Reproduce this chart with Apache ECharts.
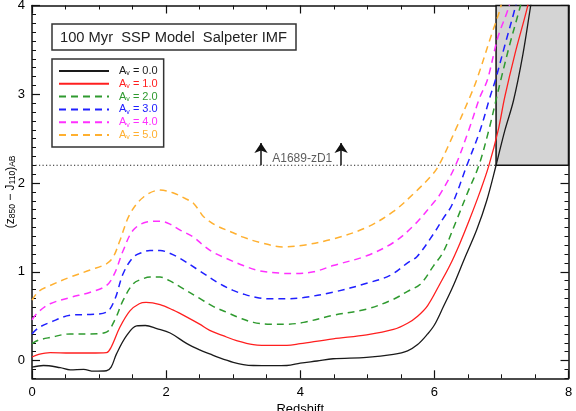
<!DOCTYPE html>
<html><head><meta charset="utf-8">
<script src="https://cdn.jsdelivr.net/npm/echarts@6/dist/echarts.min.js"></script>
<style>html,body{margin:0;padding:0;background:#fff}#c{width:576px;height:411px}</style>
</head><body><div id="c"></div>
<script>
// ---------------- data ----------------
const seriesNames = ['Av = 0.0', 'Av = 1.0', 'Av = 2.0', 'Av = 3.0', 'Av = 4.0', 'Av = 5.0'];
const seriesColors = ['#1a1a1a', '#ff1f1f', '#2f9a2f', '#2020ff', '#ff30ff', '#ffb030'];
const seriesDashed = [false, false, true, true, true, true];

// [redshift, (z850 - J110)AB]
const av0 = [[0,-0.075],[0.17,-0.056],[0.42,-0.08],[0.57,-0.105],[0.77,-0.1],[0.92,-0.12],[1.11,-0.115],[1.18,-0.075],[1.26,0.075],[1.41,0.28],[1.56,0.39],[1.69,0.395],[1.86,0.36],[2.06,0.31],[2.31,0.19],[2.5,0.12],[2.65,0.075],[2.8,0.03],[3.0,-0.02],[3.15,-0.045],[3.3,-0.056],[3.6,-0.058],[3.8,-0.056],[4.0,-0.03],[4.25,-0.005],[4.49,0.02],[4.99,0.035],[5.39,0.07],[5.6,0.11],[5.75,0.18],[5.9,0.3],[6.0,0.4],[6.13,0.6],[6.28,0.84],[6.45,1.15],[6.63,1.47],[6.78,1.8],[6.92,2.2],[7.05,2.59],[7.18,2.93],[7.32,3.45],[7.45,4.06],[7.5,4.25]];
const av1 = [[0,0.04],[0.1,0.07],[0.27,0.09],[0.57,0.085],[0.87,0.085],[1.11,0.09],[1.18,0.15],[1.31,0.375],[1.46,0.56],[1.6,0.64],[1.7,0.655],[1.91,0.63],[2.1,0.57],[2.31,0.49],[2.5,0.41],[2.65,0.34],[2.85,0.28],[3.05,0.225],[3.3,0.18],[3.6,0.17],[3.8,0.17],[4.0,0.19],[4.49,0.245],[4.99,0.29],[5.39,0.35],[5.6,0.42],[5.75,0.5],[5.9,0.62],[6.08,0.86],[6.23,1.07],[6.38,1.32],[6.53,1.6],[6.68,1.9],[6.81,2.19],[6.95,2.59],[7.05,2.97],[7.2,3.45],[7.38,3.96],[7.45,4.2]];
const av2 = [[0,0.19],[0.1,0.23],[0.27,0.26],[0.57,0.3],[0.87,0.3],[1.11,0.32],[1.23,0.45],[1.36,0.68],[1.51,0.865],[1.65,0.92],[1.76,0.94],[1.91,0.94],[2.05,0.9],[2.21,0.83],[2.5,0.7],[2.7,0.61],[2.9,0.545],[3.1,0.48],[3.3,0.43],[3.55,0.41],[3.8,0.41],[4.05,0.43],[4.49,0.51],[4.99,0.58],[5.39,0.69],[5.6,0.78],[5.79,0.86],[5.99,1.07],[6.13,1.22],[6.33,1.58],[6.5,1.9],[6.66,2.19],[6.81,2.59],[6.93,2.97],[6.99,3.16],[7.12,3.55],[7.27,3.96],[7.35,4.2]];
const av3 = [[0,0.3],[0.1,0.37],[0.27,0.43],[0.57,0.51],[0.87,0.52],[1.11,0.545],[1.23,0.68],[1.36,0.98],[1.51,1.165],[1.65,1.22],[1.76,1.24],[1.91,1.24],[2.05,1.21],[2.21,1.15],[2.5,1.01],[2.8,0.865],[3.0,0.79],[3.15,0.75],[3.35,0.71],[3.55,0.695],[3.8,0.695],[4.05,0.71],[4.49,0.77],[4.99,0.87],[5.34,0.96],[5.6,1.1],[5.74,1.17],[5.99,1.43],[6.13,1.6],[6.26,1.75],[6.48,2.19],[6.68,2.59],[6.83,2.97],[6.91,3.16],[7.05,3.55],[7.2,3.96],[7.28,4.2]];
const av4 = [[0,0.46],[0.1,0.55],[0.27,0.64],[0.57,0.71],[0.87,0.77],[1.11,0.845],[1.23,0.98],[1.36,1.24],[1.51,1.47],[1.71,1.56],[1.91,1.57],[2.05,1.54],[2.21,1.47],[2.41,1.39],[2.55,1.3],[2.7,1.22],[2.9,1.15],[3.15,1.07],[3.4,1.01],[3.7,0.985],[3.9,0.98],[4.2,1.0],[4.49,1.07],[4.99,1.18],[5.39,1.33],[5.69,1.52],[5.99,1.78],[6.09,1.88],[6.31,2.19],[6.51,2.59],[6.68,2.97],[6.79,3.16],[6.95,3.65],[7.1,3.96],[7.18,4.2]];
const av5 = [[0,0.68],[0.1,0.78],[0.27,0.845],[0.57,0.94],[0.87,1.02],[1.11,1.09],[1.21,1.165],[1.31,1.35],[1.46,1.65],[1.66,1.84],[1.91,1.92],[2.1,1.89],[2.3,1.82],[2.41,1.77],[2.5,1.68],[2.56,1.62],[2.75,1.52],[3.0,1.44],[3.15,1.39],[3.4,1.33],[3.75,1.28],[4.05,1.3],[4.49,1.37],[4.99,1.5],[5.39,1.68],[5.69,1.88],[5.94,2.07],[6.06,2.19],[6.31,2.59],[6.53,2.97],[6.63,3.16],[6.86,3.69],[6.98,3.96],[7.05,4.2]];
const seriesData = [av0, av1, av2, av3, av4, av5];

const limitRedshift = 6.92;     // left edge of shaded region
const limitColor = 2.2;         // observed colour limit (dotted line)
const arrowRedshifts = [3.415, 4.61];
const arrowTop = 2.45;
const objectName = 'A1689-zD1';
const objectLabelPos = [4.03, 2.27];
const titleText = '100 Myr  SSP Model  Salpeter IMF';
const xRange = [0, 8];
const xStep = 2;
const yRange = [-0.2, 4];
const yMajorTicks = [0, 1, 2, 3, 4];
const yMinorStep = 0.1;

// ---------------- chart ----------------
const FONT = '"Liberation Sans", Arial, Helvetica, sans-serif';
const chart = echarts.init(document.getElementById('c'), null, {renderer: 'canvas'});

const rich = {};
seriesColors.forEach((c, i) => {
  rich['k' + i] = {color: c, fontSize: 11, fontFamily: FONT, lineHeight: 12, padding: [0, 0, 0, 5]};
  rich['s' + i] = {color: c, fontSize: 7, fontFamily: FONT, lineHeight: 8, verticalAlign: 'bottom'};
  rich['t' + i] = {color: c, fontSize: 11, fontFamily: FONT, lineHeight: 12};
});

const mainSeries = seriesNames.map((n, i) => ({
  type: 'line', name: n, data: seriesData[i],
  xAxisIndex: 0, yAxisIndex: 0,
  symbol: 'none', showSymbol: false, smooth: 0.35,
  clip: true, z: 3,
  lineStyle: {color: seriesColors[i], width: seriesDashed[i] ? 1.5 : 1.3, type: seriesDashed[i] ? [7, 5] : 'solid'},
  itemStyle: {color: seriesColors[i]},
  emphasis: {disabled: true}
}));

const axisLineStyle = {color: '#111', width: 1.5};
const tickStyle = {color: '#111', width: 1.2};

function xAxisCfg(pos, withLabels) {
  return {
    type: 'value', position: pos, min: xRange[0], max: xRange[1], interval: xStep,
    axisLine: {show: true, onZero: false, lineStyle: axisLineStyle},
    axisTick: {show: true, inside: true, length: 8, lineStyle: tickStyle},
    minorTick: {show: true, splitNumber: 4, length: 4, lineStyle: {color: '#111', width: 1}},
    splitLine: {show: false}, minorSplitLine: {show: false},
    axisLabel: {show: withLabels, color: '#000', fontSize: 13, fontFamily: FONT, margin: 8},
    name: withLabels ? 'Redshift' : '', nameLocation: 'middle', nameGap: 25, nameMoveOverlap: false,
    nameTextStyle: {color: '#000', fontSize: 13, fontFamily: FONT}
  };
}
function yMajorCfg(pos, withLabels) {
  return {
    type: 'value', position: pos, min: yRange[0], max: yRange[1],
    axisLine: {show: true, onZero: false, lineStyle: axisLineStyle},
    axisTick: {show: true, inside: true, length: 8, lineStyle: tickStyle, customValues: yMajorTicks},
    axisLabel: {show: withLabels, customValues: yMajorTicks, color: '#000', fontSize: 13, fontFamily: FONT, margin: 7},
    splitLine: {show: false}, minorTick: {show: false},
    name: withLabels ? '{b|(z}{sub|850}{b| \u2212 J}{sub|110}{b|)}{sub|AB}' : '',
    nameLocation: 'middle', nameGap: 15, nameMoveOverlap: false,
    nameTextStyle: {color: '#000', rich: {
      b: {fontSize: 12, fontFamily: FONT, color: '#000', lineHeight: 13},
      sub: {fontSize: 8.5, fontFamily: FONT, color: '#000', lineHeight: 9, verticalAlign: 'bottom'}
    }}
  };
}
function yMinorCfg(pos) {
  return {
    type: 'value', position: pos, min: yRange[0], max: yRange[1], interval: yMinorStep,
    axisLine: {show: false, onZero: false},
    axisTick: {show: true, inside: true, length: 4, lineStyle: {color: '#111', width: 1}},
    axisLabel: {show: false}, splitLine: {show: false}
  };
}

const option = {
  animation: false,
  backgroundColor: '#fff',
  grid: {left: 32, right: 7.5, top: 5.5, bottom: 32.7, containLabel: false, outerBoundsMode: 'none'},
  title: {
    text: titleText, left: 52, top: 24, padding: [5, 9, 4, 8],
    borderColor: '#333', borderWidth: 1.5, backgroundColor: '#fff',
    textStyle: {fontSize: 14.7, fontWeight: 'normal', color: '#222', fontFamily: FONT, lineHeight: 17}
  },
  legend: {
    orient: 'vertical', left: 52, top: 59, padding: [6, 6, 6, 6],
    itemWidth: 50, itemHeight: 12, itemGap: 0.8,
    borderColor: '#333', borderWidth: 1.5, backgroundColor: '#fff',
    selectedMode: false, data: seriesNames,
    itemStyle: {opacity: 0, color: 'rgba(0,0,0,0)', borderWidth: 0},
    formatter: function (name) {
      const i = seriesNames.indexOf(name);
      return '{k' + i + '|A}{s' + i + '|v}{t' + i + '|' + name.slice(2) + '}';
    },
    textStyle: {fontSize: 11, fontFamily: FONT, lineHeight: 12, rich: rich}
  },
  xAxis: [xAxisCfg('bottom', true), xAxisCfg('top', false)],
  yAxis: [yMajorCfg('left', true), yMinorCfg('left'), yMajorCfg('right', false), yMinorCfg('right')],
  series: [
    {
      type: 'line', name: 'limit', xAxisIndex: 0, yAxisIndex: 0, z: 2,
      data: [[xRange[0], limitColor], [limitRedshift, limitColor]],
      symbol: 'none', silent: true,
      lineStyle: {color: '#222', width: 1, type: [1.2, 2.3]},
      emphasis: {disabled: true},
      markArea: {
        silent: true,
        itemStyle: {color: '#d4d4d4', borderColor: '#111', borderWidth: 1.5},
        data: [[{coord: [limitRedshift, limitColor]}, {coord: [xRange[1], yRange[1]]}]]
      },
      markLine: {
        silent: true, symbol: ['none', 'arrow'], symbolSize: 10,
        label: {show: false}, emphasis: {disabled: true},
        lineStyle: {color: '#111', width: 1.5, type: 'solid'},
        data: arrowRedshifts.map(x => [{coord: [x, limitColor]}, {coord: [x, arrowTop]}])
      }
    },
    {
      type: 'scatter', name: 'label', xAxisIndex: 0, yAxisIndex: 0, z: 4, silent: true,
      data: [objectLabelPos], symbolSize: 1, itemStyle: {color: 'rgba(0,0,0,0)'},
      label: {show: true, position: 'inside', formatter: objectName, fontSize: 12, fontFamily: FONT, color: '#333'}
    }
  ].concat(mainSeries)
};
chart.setOption(option);
</script>
</body></html>
